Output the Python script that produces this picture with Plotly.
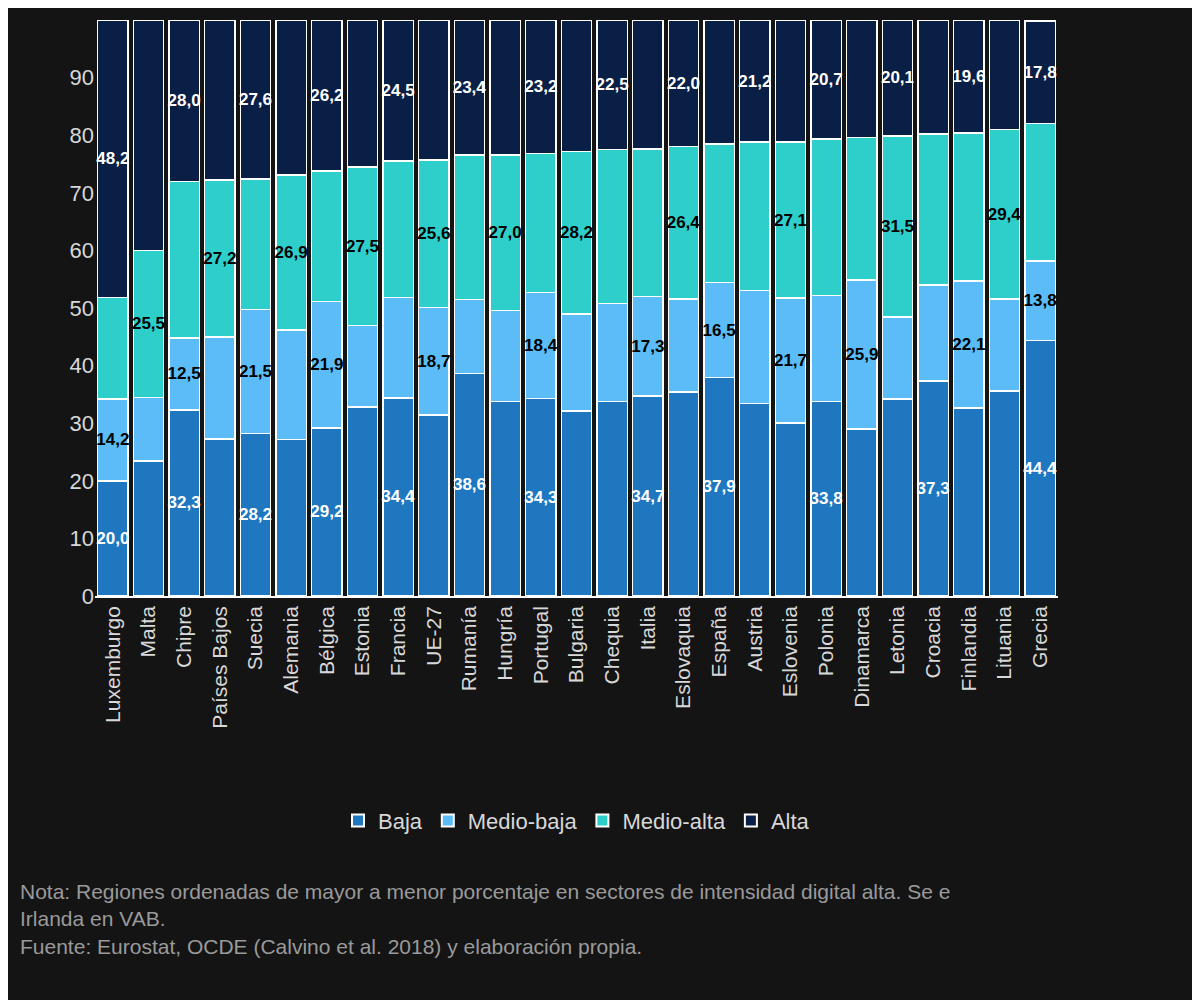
import plotly.graph_objects as go

paises = ["Luxemburgo", "Malta", "Chipre", "Países Bajos", "Suecia", "Alemania", "Bélgica",
          "Estonia", "Francia", "UE-27", "Rumanía", "Hungría", "Portugal", "Bulgaria", "Chequia",
          "Italia", "Eslovaquia", "España", "Austria", "Eslovenia", "Polonia", "Dinamarca",
          "Letonia", "Croacia", "Finlandia", "Lituania", "Grecia"]

baja = [20.0, 23.4, 32.3, 27.3, 28.2, 27.2, 29.2, 32.8, 34.4, 31.4, 38.6, 33.8, 34.3, 32.1,
        33.8, 34.7, 35.4, 37.9, 33.4, 30.0, 33.8, 29.0, 34.2, 37.3, 32.6, 35.6, 44.4]
medio_baja = [14.2, 11.1, 12.5, 17.7, 21.5, 19.0, 21.9, 14.2, 17.4, 18.7, 12.9, 15.8, 18.4, 16.9,
              17.0, 17.3, 16.2, 16.5, 19.6, 21.7, 18.4, 25.9, 14.2, 16.7, 22.1, 16.0, 13.8]
medio_alta = [17.6, 25.5, 27.2, 27.2, 22.7, 26.9, 22.7, 27.5, 23.7, 25.6, 25.1, 27.0, 24.1, 28.2,
              26.7, 25.6, 26.4, 24.1, 25.8, 27.1, 27.1, 24.7, 31.5, 26.2, 25.7, 29.4, 23.8]
alta = [48.2, 40.0, 28.0, 27.8, 27.6, 26.9, 26.2, 25.5, 24.5, 24.3, 23.4, 23.4, 23.2, 22.8,
        22.5, 22.4, 22.0, 21.5, 21.2, 21.2, 20.7, 20.4, 20.1, 19.8, 19.6, 19.0, 17.8]

# which segment labels appear in the original (1 = shown)
show_baja = [1, 0, 1, 0, 1, 0, 1, 0, 1, 0, 1, 0, 1, 0, 0, 1, 0, 1, 0, 0, 1, 0, 0, 1, 0, 0, 1]
show_mb = [1, 0, 1, 0, 1, 0, 1, 0, 0, 1, 0, 0, 1, 0, 0, 1, 0, 1, 0, 1, 0, 1, 0, 0, 1, 0, 1]
show_ma = [0, 1, 0, 1, 0, 1, 0, 1, 0, 1, 0, 1, 0, 1, 0, 0, 1, 0, 0, 1, 0, 0, 1, 0, 0, 1, 0]
show_alta = [1, 0, 1, 0, 1, 0, 1, 0, 1, 0, 1, 0, 1, 0, 1, 0, 1, 0, 1, 0, 1, 0, 1, 0, 1, 0, 1]


def etiquetas(vals, show):
    return [f"{v:.1f}".replace(".", ",") if s else "" for v, s in zip(vals, show)]


series = [
    ("Baja", baja, show_baja, "#1f77c0", "white"),
    ("Medio-baja", medio_baja, show_mb, "#5bbcf7", "black"),
    ("Medio-alta", medio_alta, show_ma, "#2ecfcb", "black"),
    ("Alta", alta, show_alta, "#0a1f45", "white"),
]

fig = go.Figure()
for nombre, vals, show, color, tcolor in series:
    fig.add_trace(go.Bar(
        name=nombre, x=paises, y=vals,
        text=etiquetas(vals, show), textposition="inside", insidetextanchor="middle",
        textangle=0, constraintext="none",
        textfont=dict(color=tcolor, size=17, family="Liberation Sans", weight="bold"),
        marker=dict(color=color, line=dict(color="white", width=1.5)),
    ))

fig.update_layout(
    barmode="stack", bargap=0.15,
    width=1200, height=1000,
    paper_bgcolor="#141414", plot_bgcolor="#141414",
    margin=dict(l=87, r=150, t=12, b=412),
    font=dict(family="Liberation Sans", color="#d8d8d8", size=20),
    uniformtext=dict(minsize=12, mode="show"),
    yaxis=dict(range=[0, 100], dtick=10, showgrid=False, zeroline=False,
               showline=False, tickfont=dict(size=22)),
    xaxis=dict(tickangle=-90, showline=True, linecolor="white", linewidth=1.5,
               tickfont=dict(size=21)),
    legend=dict(orientation="h", x=0.5, xanchor="center", y=-0.39, yanchor="middle",
                traceorder="normal", font=dict(size=22), itemsizing="constant"),
    annotations=[dict(
        xref="paper", yref="paper", x=-77 / 963, y=-0.49, xanchor="left", yanchor="top",
        align="left", showarrow=False, font=dict(size=21, color="#9a9a9a"),
        text="Nota: Regiones ordenadas de mayor a menor porcentaje en sectores de intensidad digital alta. Se e<br>"
             "Irlanda en VAB.<br>Fuente: Eurostat, OCDE (Calvino et al. 2018) y elaboración propia.",
    )],
)

fig.write_html("out.html")
